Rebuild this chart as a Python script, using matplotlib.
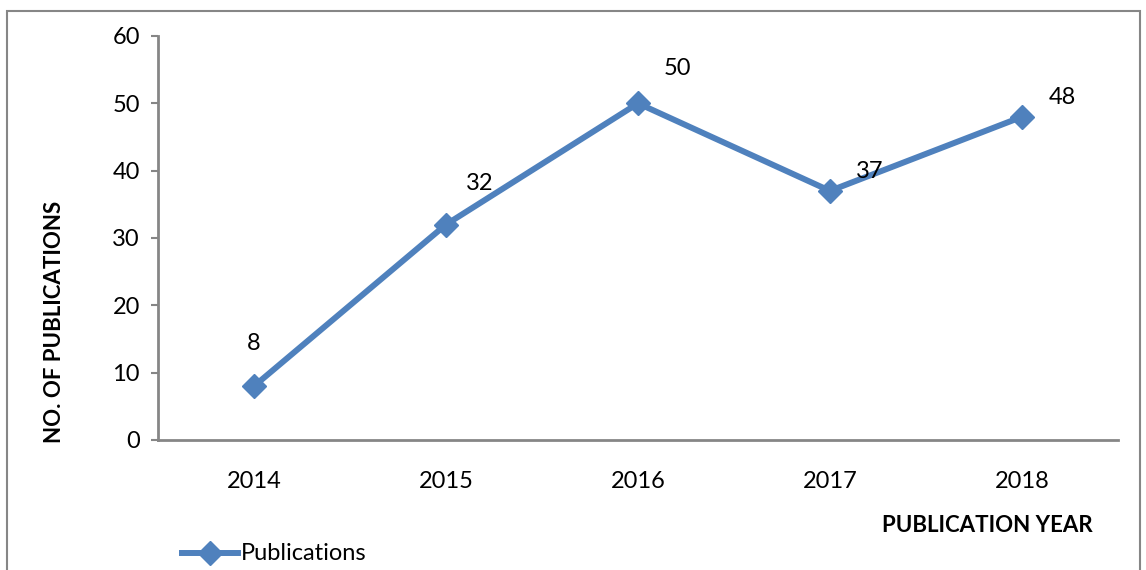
import matplotlib.pyplot as plt
from matplotlib.lines import Line2D
from matplotlib.patches import Rectangle

years = ["2014", "2015", "2016", "2017", "2018"]
pubs = [8, 32, 50, 37, 48]
yticks = [0, 10, 20, 30, 40, 50, 60]

blue = "#4F81BD"
gray = "#868686"
plt.rcParams["font.family"] = ["Lato", "DejaVu Sans"]

W, H = 1146, 570
fig = plt.figure(figsize=(W / 100, H / 100), dpi=100)
ax = fig.add_axes([158 / W, 1 - 440 / H, 960 / W, 404 / H])

x = list(range(len(years)))
ax.plot(x, pubs, color=blue, lw=4.3, marker="D", ms=12, mec=blue, mfc=blue,
        clip_on=False)

# data labels, offsets in pixels from each point
label_off = [(0, 43), (34, 41), (39, 35), (40, 19), (40, 19)]
for i, v in enumerate(pubs):
    ax.annotate(str(v), (i, v), xytext=label_off[i], textcoords="offset pixels",
                ha="center", va="center", fontsize=17, color="black")

ax.set_xlim(-0.5, len(years) - 0.5)
ax.set_ylim(0, 60)
ax.set_yticks(yticks)
ax.set_xticks(x)
ax.set_xticklabels(years)
ax.tick_params(axis="x", length=0, pad=22, labelsize=17)
ax.tick_params(axis="y", length=5, width=1.5, color=gray, pad=8, labelsize=17)
for s in ["top", "right"]:
    ax.spines[s].set_visible(False)
for s in ["left", "bottom"]:
    ax.spines[s].set_color(gray)
    ax.spines[s].set_linewidth(2)

fig.text(55 / W, 1 - 322 / H, "NO. OF PUBLICATIONS", rotation=90, ha="center",
         va="center", fontsize=16, fontweight="bold")
fig.text(987 / W, 1 - 526 / H, "PUBLICATION YEAR", ha="center", va="center",
         fontsize=16, fontweight="bold")

# legend
fig.add_artist(Line2D([182 / W, 238 / W], [1 - 553 / H] * 2, color=blue, lw=4.3))
fig.add_artist(Line2D([210 / W], [1 - 553 / H], color=blue, marker="D", ms=12))
fig.text(241 / W, 1 - 553 / H, "Publications", ha="left", va="center", fontsize=17)

# outer chart border
fig.add_artist(Rectangle((7 / W, -0.05), 1133 / W, 1 - 11 / H + 0.05,
                         transform=fig.transFigure, fill=False, ec=gray, lw=1.5))

fig.savefig("out.png", dpi=100)
